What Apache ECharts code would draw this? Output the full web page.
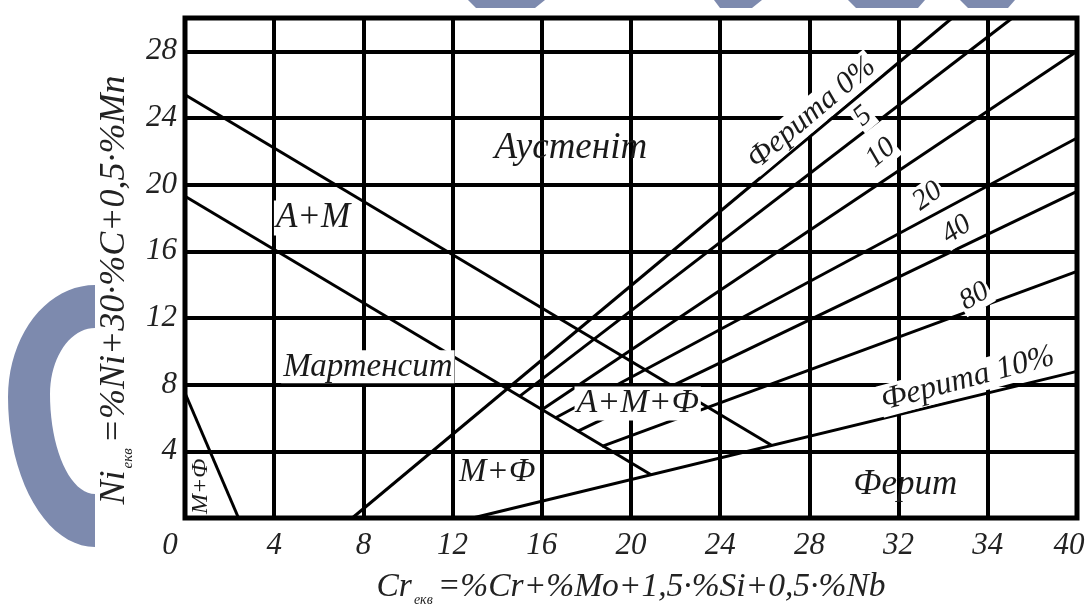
<!DOCTYPE html>
<html>
<head>
<meta charset="utf-8">
<script src="https://cdn.jsdelivr.net/npm/echarts@6/dist/echarts.min.js"></script>
<style>html,body{margin:0;padding:0;background:#fff;}#c{width:1090px;height:612px;}</style>
</head>
<body>
<div id="c"></div>
<script>
// ---- data ----
const xTickLabels = ['0','4','8','12','16','20','24','28','32','34','40'];
const yTickLabels = ['', '4','8','12','16','20','24','28'];
// boundary lines [Cr_eq, Ni_eq]
const lineAM_upper = [[0,25.4],[26.3,4.36]];
const lineAM_lower = [[0,19.3],[20.9,2.6]];
const lineMF = [[0,7.5],[2.4,0]];
const ferrite0 = [[7.5,0],[34.4,30]];
const ferrite5 = [[15.0,7.3],[37.1,30]];
const ferrite10 = [[16.0,6.5],[40,28.0]];
const ferrite20 = [[16.6,6.0],[40,22.8]];
const ferrite40 = [[17.6,5.2],[40,19.6]];
const ferrite80 = [[18.7,4.3],[40,14.8]];
const ferrite100 = [[12.9,0],[40,8.8]];
// region / line labels: [x, y, text, rotateDeg, whiteBg, fontSize]
const regionLabels = [
  [17.3,22.2,'Аустеніт',0,false,37],
  [5.74,18.0,'A+M',0,true,35],
  [8.2,9.07,'Мартенсит',0,true,33],
  [14.0,2.75,'M+Ф',0,true,33],
  [20.3,6.87,'A+M+Ф',0,true,34],
  [32.3,1.97,'Ферит',0,false,35],
  [0.72,1.9,'M+Ф',90,false,24],
  [28.1,24.3,'Ферита 0%',40,true,31],
  [30.4,24.1,'5',40,true,29],
  [31.2,21.9,'10',40,true,29],
  [33.3,19.3,'20',36,true,29],
  [34.6,17.3,'40',34,true,29],
  [35.4,13.3,'80',30,true,29],
  [35.1,8.36,'Ферита 10%',15,true,32]
];

const FONT = '"Liberation Serif", "DejaVu Serif", serif';
const chart = echarts.init(document.getElementById('c'));

function lineSeries(data){
  return {type:'line', data:data, symbol:'none', silent:true, z:3,
    lineStyle:{color:'#000', width:3}};
}

// watermark crescent (decoration only)
function crescent(){
  const pts = [];
  const cx = 95;
  for (let i=0;i<=40;i++){ // outer: top -> left -> bottom
    const a = Math.PI*i/40;
    const ry = a < Math.PI/2 ? 112 : 150;
    pts.push([cx - 87*Math.sin(a), 397 - ry*Math.cos(a)]);
  }
  for (let i=0;i<=40;i++){ // inner: bottom -> left -> top
    const a = Math.PI*i/40;
    const ry = a < Math.PI/2 ? 100 : 66;
    pts.push([cx - 45*Math.sin(a), 394 + ry*Math.cos(a)]);
  }
  return pts;
}

const nameRich = function(fs){ return {
  a:{fontFamily:FONT, fontStyle:'italic', fontSize:fs, color:'#222'},
  s:{fontFamily:FONT, fontStyle:'italic', fontSize:Math.round(fs*0.42), color:'#222', padding:[Math.round(fs*0.75),5,0,2]}
};};

const option = {
  animation:false,
  backgroundColor:'#fff',
  grid:{left:185, right:13, top:18, bottom:92, show:true, borderColor:'#000', borderWidth:5, backgroundColor:'transparent'},
  xAxis:{type:'value', min:0, max:40, interval:4,
    axisLine:{show:false}, axisTick:{show:false},
    splitLine:{show:true, lineStyle:{color:'#000', width:4}},
    axisLabel:{margin:12, color:'#222', fontFamily:FONT, fontStyle:'italic', fontSize:31,
      formatter:function(v){const i=Math.round(v/4); if(i===0) return '{z|0}'; if(i===10) return '{e|'+xTickLabels[i]+'}'; return xTickLabels[i];},
      rich:{z:{fontFamily:FONT, fontStyle:'italic', fontSize:31, color:'#222', padding:[0,30,0,0]},
            e:{fontFamily:FONT, fontStyle:'italic', fontSize:31, color:'#222', padding:[0,16,0,0]}}},
    name:'{a|Cr}{s|екв}{a|=%Cr+%Mo+1,5·%Si+0,5·%Nb}', nameLocation:'middle', nameGap:50,
    nameTextStyle:{rich:nameRich(33.5)}
  },
  yAxis:{type:'value', min:0, max:30, interval:4,
    axisLine:{show:false}, axisTick:{show:false},
    splitLine:{show:true, lineStyle:{color:'#000', width:4}},
    axisLabel:{margin:8, color:'#222', fontFamily:FONT, fontStyle:'italic', fontSize:31,
      formatter:function(v){const i=Math.round(v/4); return (v%4===0 && i<yTickLabels.length)?yTickLabels[i]:'';}},
    name:'{a|Ni}{s|екв}{a|=%Ni+30·%C+0,5·%Mn}', nameLocation:'middle', nameGap:47,
    nameTextStyle:{padding:[0,44,0,0], rich:nameRich(36)}
  },
  graphic:[
    {id:'wm0', type:'polygon', z:-10, shape:{points:crescent()}, style:{fill:'#7d8aae'}},
    {id:'wm1', type:'polygon', z:-10, shape:{points:[[468,0],[545,0],[535,8],[476,8]]}, style:{fill:'#7d8aae'}},
    {id:'wm2', type:'polygon', z:-10, shape:{points:[[714,0],[762,0],[752,8],[720,8]]}, style:{fill:'#7d8aae'}},
    {id:'wm3', type:'polygon', z:-10, shape:{points:[[848,0],[925,0],[918,8],[856,8]]}, style:{fill:'#7d8aae'}},
    {id:'wm4', type:'polygon', z:-10, shape:{points:[[960,0],[1015,0],[1008,8],[968,8]]}, style:{fill:'#7d8aae'}}
  ],
  series:[
    lineSeries(lineAM_upper), lineSeries(lineAM_lower), lineSeries(lineMF),
    lineSeries(ferrite0), lineSeries(ferrite5), lineSeries(ferrite10),
    lineSeries(ferrite20), lineSeries(ferrite40), lineSeries(ferrite80), lineSeries(ferrite100)
  ]
};
chart.setOption(option);

// text labels placed at data coordinates through the grid's scales
const labelEls = regionLabels.map(function(r, i){
  const p = chart.convertToPixel({gridIndex:0}, [r[0], r[1]]);
  return {id:'lab'+i, type:'text', z:100, x:p[0], y:p[1], rotation:r[3]*Math.PI/180,
    style:{text:r[2], fontFamily:FONT, fontStyle:'italic', fontSize:r[5], fill:'#1a1a1a',
      align:'center', verticalAlign:'middle',
      backgroundColor:r[4]?'#fff':null, padding:r[4]?[0,2,0,2]:0}};
});
chart.setOption({graphic: labelEls});
</script>
</body>
</html>
